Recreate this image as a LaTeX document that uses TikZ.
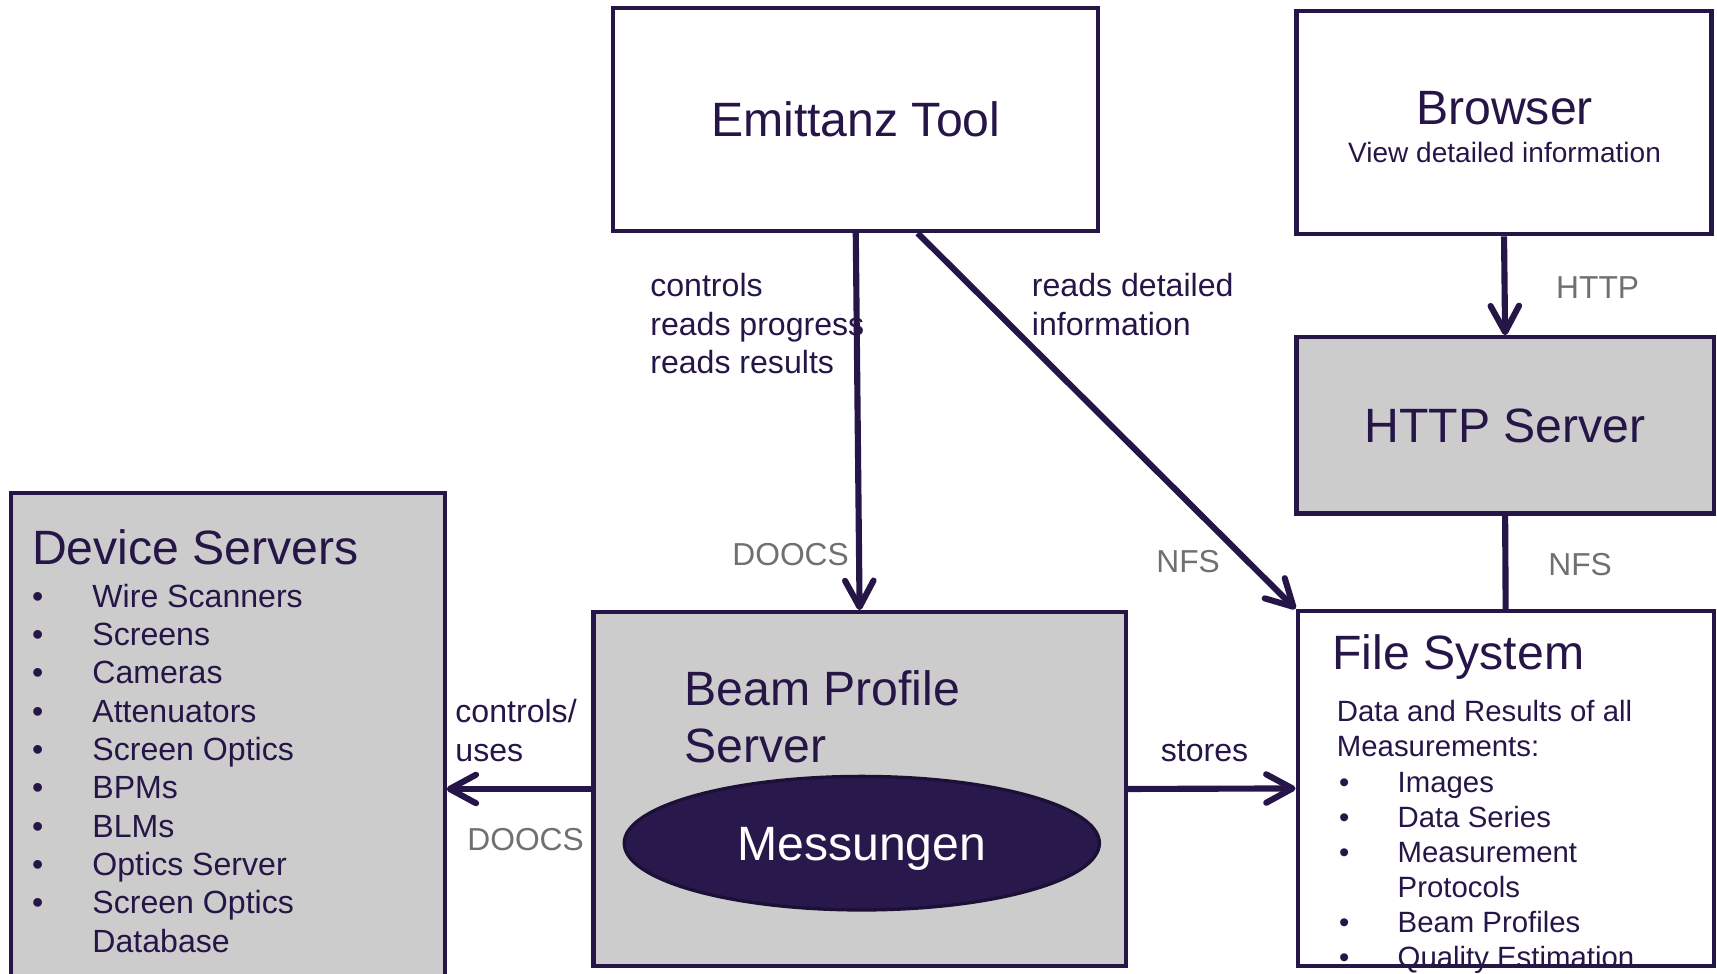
\documentclass[tikz,border=0pt]{standalone}
\usepackage{fontspec}
\setmainfont{Liberation Sans}
\usetikzlibrary{arrows.meta, shapes.geometric}
\usepackage{xcolor}
\definecolor{DarkNavy}{RGB}{38,22,72}
\definecolor{BoxGray}{RGB}{204,204,204}
\definecolor{LabelGray}{RGB}{112,112,112}
\definecolor{EllipseFill}{RGB}{41,24,76}
\definecolor{EllipseEdge}{RGB}{28,16,54}

\begin{document}
\begin{tikzpicture}[
          x=0.5pt, y=-0.5pt,
          box/.style={rectangle, draw=DarkNavy, line width=1.9pt, inner sep=0pt},
          graybox/.style={box, fill=BoxGray},
          bigtext/.style={font=\fontsize{22}{26}\selectfont, text=DarkNavy, inner sep=0pt, text height=15.8pt, text depth=0pt},
          subtext/.style={font=\fontsize{12.8}{15.4}\selectfont, text=DarkNavy, inner sep=0pt, text height=9.2pt, text depth=0pt},
          smalltext/.style={font=\fontsize{14.65}{17.5}\selectfont, text=DarkNavy, inner sep=0pt, text height=10.5pt, text depth=0pt, anchor=west},
          fstext/.style={font=\fontsize{13.4}{16}\selectfont, text=DarkNavy, inner sep=0pt, text height=9.6pt, text depth=0pt, anchor=west},
          note/.style={font=\fontsize{14.65}{17.5}\selectfont, text=DarkNavy, inner sep=0pt, align=left, anchor=north west},
          proto/.style={font=\fontsize{14.5}{17.5}\selectfont, text=LabelGray, inner sep=0pt, text height=10.4pt, text depth=0pt},
          arrow/.style={-{Straight Barb[length=12pt, width=13pt, round]}, line width=2.8pt, DarkNavy},
          link/.style={line width=2.8pt, DarkNavy}
        ]
          \useasboundingbox (0,0) rectangle (1568,889);

          % boxes
          \node (emit) [box, bigtext, minimum width=221.5pt, minimum height=102pt] at (781.5,109) {Emittanz Tool};
          \node (browser) [box, minimum width=189.5pt, minimum height=102pt] at (1373.5,112) {};
          \node (browsertitle) [bigtext] at (1374,98) {Browser};
          \node (browserinfo) [subtext] at (1374,139) {View detailed information};
          \node (http) [graybox, bigtext, minimum width=190.5pt, minimum height=80.5pt] at (1374.5,388.5) {HTTP Server};
          \node (fs) [box, minimum width=190pt, minimum height=162pt] at (1375,720) {};
          \node (bps) [graybox, minimum width=243pt, minimum height=161.5pt] at (785,720.5) {};
          \node (dev) [graybox, minimum width=198pt, minimum height=222.5pt] at (208,672.5) {};

          % beam profile server
          \node (bpstitle) [note, font=\fontsize{22}{26}\selectfont] at (624.5,612.2) {Beam Profile\\Server};
          \node (mess) [ellipse, draw=EllipseEdge, line width=1.5pt, fill=EllipseFill, minimum width=217pt, minimum height=61pt, bigtext, text=white] at (787,770) {Messungen};

          % device servers
          \node (devtitle) [bigtext, anchor=west] at (29,500) {Device Servers};
          \foreach \devname [count=\i] in {Wire Scanners, Screens, Cameras, Attenuators, Screen Optics, BPMs, BLMs, Optics Server, Screen Optics} {
            \node (devitem\i) [smalltext] at (84,509+35*\i) {\devname};
            \node (devdot\i) [smalltext] at (29,509+35*\i) {\textbullet};
          }
          \node (devitem10) [smalltext] at (84,859) {Database};

          % file system
          \node (fstitle) [bigtext, anchor=west] at (1216.5,596) {File System};
          \node (fsintro) [fstext] at (1220.5,649) {Data and Results of all};
          \node (fsintro2) [fstext] at (1220.5,681) {Measurements:};
          \foreach \fsitem/\yy [count=\j] in {Images/714, Data Series/746, Measurement/778, Beam Profiles/842, Quality Estimation/874} {
            \node (fsitem\j) [fstext] at (1276,\yy) {\fsitem};
            \node (fsdot\j) [fstext] at (1222.4,\yy) {\textbullet};
          }
          \node (fsitem6) [fstext] at (1276,810) {Protocols};

          % connectors
          \draw [arrow] (emit.south) -- (bps.north);
          \draw [arrow] ([xshift=28.25pt]emit.south) -- (fs.north west);
          \draw [arrow] (browser.south) -- (http.north);
          \draw [link] (http.south) -- (fs.north);
          \draw [arrow] (bps.east) -- (fs.west);
          \draw [arrow] (bps.west) -- (bps.west -| dev.east);

          % labels
          \node (ctrlnote) [note] at (593.5,249.4) {controls\\reads progress\\reads results};
          \node (readnote) [note] at (942,249.4) {reads detailed\\information};
          \node (usenote) [note] at (415.5,638.4) {controls/\\uses};
          \node (storenote) [smalltext, anchor=center] at (1100,685) {stores};
          \node (doocsemit) [proto] at (722,506) {DOOCS};
          \node (nfsemit) [proto] at (1085,512) {NFS};
          \node (httpproto) [proto] at (1459,262) {HTTP};
          \node (nfshttp) [proto] at (1443,515) {NFS};
          \node (doocsdev) [proto] at (480,766) {DOOCS};
        \end{tikzpicture}
\end{document}
